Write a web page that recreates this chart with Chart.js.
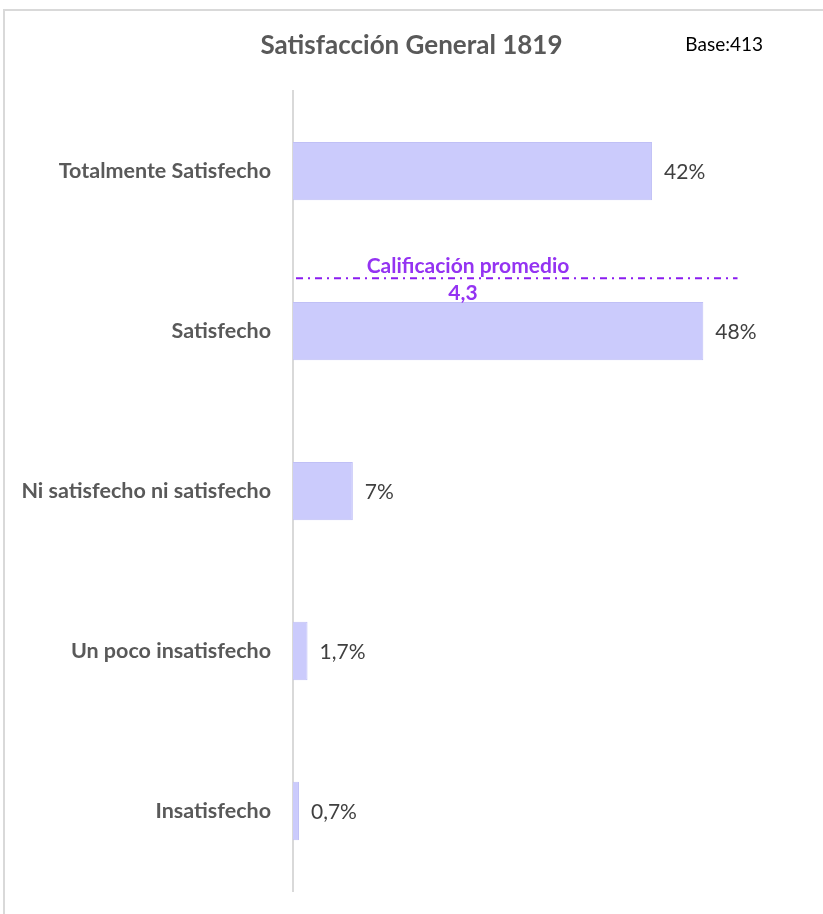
<!DOCTYPE html>
<html>
<head>
<meta charset="utf-8">
<script src="https://cdn.jsdelivr.net/npm/chart.js@4.4.1/dist/chart.umd.min.js"></script>
<style>
  html, body { margin: 0; padding: 0; background: #fff; }
  #wrap { position: relative; width: 823px; height: 914px; }
  #frame { position: absolute; left: 3px; top: 9px; right: -5px; bottom: -5px; border-top: 2px solid #d9d9d9; border-left: 2px solid #d9d9d9; }
  canvas { position: absolute; left: 0; top: 0; }
</style>
</head>
<body>
<div id="wrap">
  <div id="frame"></div>
  <canvas id="c" width="823" height="914"></canvas>
</div>
<script>
const categories = ["Totalmente Satisfecho", "Satisfecho", "Ni satisfecho ni satisfecho", "Un poco insatisfecho", "Insatisfecho"];
const values = [42, 48, 7, 1.7, 0.7];
const titleText = "Satisfacción General 1819";
const baseText = "Base:413";
const avgLabel = "Calificación promedio";
const avgValue = "4,3";
const avgLinePos = 0.67;   // position of the average line on the category axis
const avgLineEnd = 52;     // end of the average line on the value axis

const FONT = "Lato, 'Liberation Sans', sans-serif";

const overlay = {
  id: 'overlay',
  afterDatasetsDraw(chart) {
    const ctx = chart.ctx;
    const xs = chart.scales.x, ys = chart.scales.y;
    const meta = chart.getDatasetMeta(0);
    ctx.save();
    // value labels
    ctx.font = "21px " + FONT;
    ctx.fillStyle = "#404040";
    ctx.textAlign = "left";
    ctx.textBaseline = "middle";
    meta.data.forEach((bar, i) => {
      const txt = String(values[i]).replace('.', ',') + '%';
      ctx.fillText(txt, bar.x + 12, bar.y + 1);
    });
    // average line
    const y = ys.getPixelForValue(avgLinePos);
    const x0 = xs.getPixelForValue(0) + 3;
    const x1 = xs.getPixelForValue(avgLineEnd);
    ctx.strokeStyle = "#8a1cf0";
    ctx.lineWidth = 2;
    ctx.setLineDash([7, 5, 2, 5]);
    ctx.beginPath();
    ctx.moveTo(x0, y);
    ctx.lineTo(x1, y);
    ctx.stroke();
    ctx.setLineDash([]);
    ctx.fillStyle = "#9433f2";
    ctx.font = "bold 21px " + FONT;
    ctx.textAlign = "center";
    ctx.fillText(avgLabel, chart.chartArea.left + 175, y - 12);
    ctx.fillText(avgValue, chart.chartArea.left + 170, y + 15);
    // base text
    ctx.fillStyle = "#000";
    ctx.font = "19px " + FONT;
    ctx.textAlign = "right";
    ctx.fillText(baseText, 763, 45);
    ctx.restore();
  }
};

new Chart(document.getElementById('c'), {
  type: 'bar',
  data: {
    labels: categories,
    datasets: [{
      data: values,
      backgroundColor: '#cbcbfc',
      borderColor: '#c0c0f6',
      borderWidth: 1,
      barPercentage: 0.365,
      categoryPercentage: 1
    }]
  },
  options: {
    indexAxis: 'y',
    responsive: false,
    animation: false,
    layout: { padding: { left: 0, right: 0, top: 0, bottom: 23 } },
    plugins: {
      legend: { display: false },
      tooltip: { enabled: false },
      title: {
        display: true,
        text: titleText,
        color: '#595959',
        font: { family: FONT, size: 26, weight: 'bold' },
        padding: { top: 30, bottom: 30 }
      }
    },
    scales: {
      x: {
        display: false,
        min: 0,
        max: 62
      },
      y: {
        afterFit(scale) { scale.width = 293; scale.paddingTop = 0; scale.paddingBottom = 0; },
        grid: { display: false, drawTicks: false },
        border: { display: true, color: '#d9d9d9', width: 2 },
        ticks: {
          padding: 22,
          color: '#595959',
          font: { family: FONT, size: 21.5, weight: 'bold' }
        }
      }
    }
  },
  plugins: [overlay]
});
</script>
</body>
</html>
